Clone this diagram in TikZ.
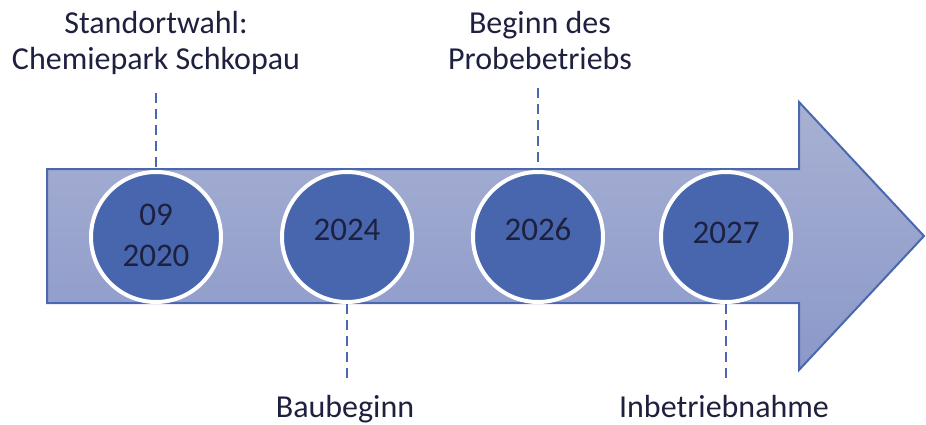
\documentclass[tikz,border=0pt]{standalone}
\usepackage{fontspec}
\setmainfont{Carlito}
\definecolor{arrowline}{RGB}{74,104,175}
\definecolor{arrowtop}{RGB}{168,177,211}
\definecolor{arrowbot}{RGB}{139,152,201}
\definecolor{circfill}{RGB}{72,102,173}
\definecolor{txtnavy}{RGB}{30,32,64}
\begin{document}
\begin{tikzpicture}[x=1pt,y=-1pt,
  year/.style={circle,draw=white,line width=4pt,fill=circfill,minimum size=130pt,inner sep=0pt},
  yeartext/.style={font=\fontsize{33}{40}\selectfont,text=txtnavy,inner sep=0pt,anchor=base,align=center},
  lbl/.style={font=\fontsize{32}{36}\selectfont,text=txtnavy,inner sep=0pt,anchor=base,align=center},
  tick/.style={draw=arrowline,line width=2.5pt,dash pattern=on 10pt off 6pt}]
\useasboundingbox (0,0) rectangle (926,424);
% arrow
\draw[line width=2pt,draw=arrowline,top color=arrowtop,bottom color=arrowbot,line join=miter]
  (47,169) -- (799,169) -- (799,102) -- (924,236) -- (799,370) -- (799,303) -- (47,303) -- cycle;
% circles
\node[year] (c1) at (156,237) {};
\node[year] (c2) at (347,237) {};
\node[year] (c3) at (538,237) {};
\node[year] (c4) at (726,237) {};
\node[yeartext] (y1a) at (156,225) {09};
\node[yeartext] (y1b) at (156,266) {2020};
\node[yeartext] (y2) at (347,240) {2024};
\node[yeartext] (y3) at (538,240) {2026};
\node[yeartext] (y4) at (726,243) {2027};
% labels
\node[lbl] (l1) at (156,69) {Standortwahl:\\Chemiepark Schkopau};
\node[lbl] (l3) at (540,69) {Beginn des\\Probebetriebs};
\node[lbl] (l2) at (345,417) {Baubeginn};
\node[lbl] (l4) at (724,417) {Inbetriebnahme};
% tick coordinates
\coordinate (t1) at (156,93);
\coordinate (t3) at (538,88);
\coordinate (t2) at (347,380);
\coordinate (t4) at (726,380);
\draw[tick] (t1) -- (c1.north);
\draw[tick] (t3) -- (c3.north);
\draw[tick] (c2.south) -- (t2);
\draw[tick] (c4.south) -- (t4);
\end{tikzpicture}
\end{document}
